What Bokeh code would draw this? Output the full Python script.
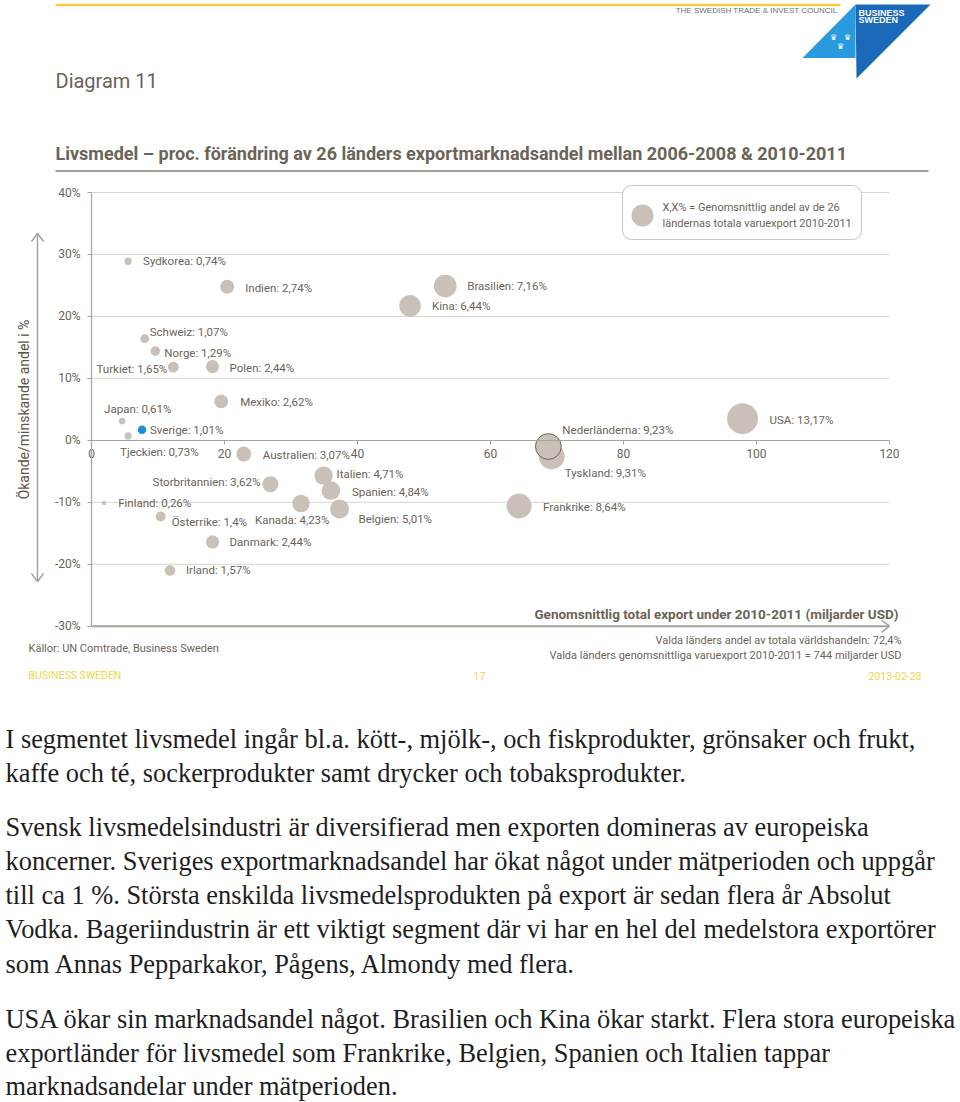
import math
from bokeh.plotting import figure
from bokeh.models import Range1d, LinearAxis, FixedTicker, NumeralTickFormatter, ColumnDataSource
from bokeh.core.properties import value
from bokeh.embed import file_html
from bokeh.resources import INLINE

# ---------------- data ----------------
countries = ["Sydkorea", "Indien", "Brasilien", "Kina", "Schweiz", "Norge", "Turkiet", "Polen",
             "Mexiko", "Japan", "Sverige", "Tjeckien", "Australien", "Italien", "Storbritannien",
             "Spanien", "Kanada", "Belgien", "Finland", "Österrike", "Danmark", "Irland", "USA",
             "Tyskland", "Nederländerna", "Frankrike"]
# average total export 2010-2011 (billion USD)
export_bn = [5.5, 20.4, 53.2, 47.9, 8.0, 9.6, 12.3, 18.2,
             19.5, 4.6, 7.6, 5.5, 22.9, 34.9, 26.9,
             36.0, 31.5, 37.3, 1.9, 10.4, 18.2, 11.8, 97.9,
             69.2, 68.7, 64.3]
# change in export market share (fraction)
share_change = [0.289, 0.248, 0.249, 0.217, 0.164, 0.144, 0.118, 0.119,
                0.063, 0.031, 0.017, 0.007, -0.022, -0.057, -0.071,
                -0.081, -0.102, -0.111, -0.101, -0.123, -0.164, -0.210, 0.035,
                -0.026, -0.010, -0.106]
# share of the 26 countries' total exports 2010-2011 (%)
world_share = [0.74, 2.74, 7.16, 6.44, 1.07, 1.29, 1.65, 2.44,
               2.62, 0.61, 1.01, 0.73, 3.07, 4.71, 3.62,
               4.84, 4.23, 5.01, 0.26, 1.4, 2.44, 1.57, 13.17,
               9.31, 9.23, 8.64]

x_ticks = [0, 20, 40, 60, 80, 100, 120]
y_ticks = [-0.3, -0.2, -0.1, 0.0, 0.1, 0.2, 0.3, 0.4]
grid_y = [-0.2, -0.1, 0.1, 0.2, 0.3, 0.4]

# label placement (screen px offsets, alignment) -- styling only
label_dx = [15, 18, 22, 22, 5, 9, -6, 17,
            19, -18, 8, -8, 19, 13, -10,
            21, -46, 19, 14, 11, 17, 16, 27,
            13, 14, 24]
label_dy = [0, 1, 0, 0, -7, 2, 2, 1,
            1, -12, 0, 16, 1, -2, -2,
            1, 16, 10, 0, 5, 0, 0, 1,
            17, -17, 1]
label_align = ["left"] * 26
label_align[countries.index("Turkiet")] = "right"
label_align[countries.index("Storbritannien")] = "right"

# ---------------- styling ----------------
W, H = 960, 1102
NARROW = "Roboto"
SANS = "Liberation Sans"
SERIF = "Liberation Serif"
TXT = "#6b6358"
BUBBLE = "#c9c1b8"
BLUE = "#1c8fd9"
YELLOW = "#e9d64c"
GRID = "#d8d5d0"

# pixel anchors of the chart frame on the page
X0_PX, X120_PX = 91.0, 889.0
Y40_PX, YM30_PX = 192.0, 625.7
sx = (X120_PX - X0_PX) / 120.0
sy = (YM30_PX - Y40_PX) / 0.70
x_start = 0 - X0_PX / sx
x_end = 120 + (W - X120_PX) / sx
y_end = 0.40 + Y40_PX / sy
y_start = -0.30 - (H - YM30_PX) / sy

p = figure(width=W, height=H, x_range=Range1d(x_start, x_end), y_range=Range1d(y_start, y_end),
           x_axis_type=None, y_axis_type=None, output_backend="svg", toolbar_location=None,
           min_border=0, outline_line_color=None, background_fill_color="white",
           border_fill_color="white")
p.extra_x_ranges = {"px": Range1d(0, W)}
p.extra_y_ranges = {"py": Range1d(H, 0)}
PX = dict(x_range_name="px", y_range_name="py")

# ---------------- chart ----------------
p.segment(x0=[0] * len(grid_y), x1=[120] * len(grid_y), y0=grid_y, y1=grid_y,
          line_color=GRID, line_width=1)

xaxis = LinearAxis(fixed_location=0, bounds=(0, 120), ticker=FixedTicker(ticks=x_ticks),
                   axis_line_color="#a9a39c", axis_line_width=1.2,
                   major_tick_out=4, major_tick_in=0, major_tick_line_color="#a9a39c",
                   minor_tick_line_color=None, major_label_standoff=5,
                   major_label_text_font=NARROW, major_label_text_font_size="12px",
                   major_label_text_color=TXT)
p.add_layout(xaxis, "below")

yaxis = LinearAxis(fixed_location=0, bounds=(-0.3, 0.4), ticker=FixedTicker(ticks=y_ticks),
                   formatter=NumeralTickFormatter(format="0%"),
                   axis_line_color="#a9a39c", axis_line_width=1.2,
                   major_tick_out=4, major_tick_in=0, major_tick_line_color="#a9a39c",
                   minor_tick_line_color=None, major_label_standoff=7,
                   major_label_text_font=NARROW, major_label_text_font_size="12px",
                   major_label_text_color=TXT)
p.add_layout(yaxis, "left")

# bottom arrow line at -30%
p.segment(x0=[0], x1=[120], y0=[-0.3], y1=[-0.3], line_color="#a9a39c", line_width=2)
p.multi_line(xs=[[881, 889, 881]], ys=[[619.5, 625.7, 631.9]], line_color="#a9a39c",
             line_width=1.5, **PX)

labels = [f"{c}: {str(s).replace('.', ',')}%" for c, s in zip(countries, world_share)]
sizes = [8.5 * math.sqrt(s) for s in world_share]
fills = [BLUE if c == "Sverige" else BUBBLE for c in countries]
lines = ["#6b6358" if c == "Nederländerna" else None for c in countries]
src = ColumnDataSource(dict(x=export_bn, y=share_change, size=sizes, fill=fills, lc=lines,
                            label=labels, dx=label_dx, dy=label_dy, align=label_align))
p.scatter("x", "y", size="size", fill_color="fill", line_color="lc", line_width=1,
          fill_alpha=1, source=src)
p.text("x", "y", text="label", x_offset="dx", y_offset="dy", text_align="align",
       text_baseline="middle", text_font=value(NARROW), text_font_size="11.5px",
       text_color=TXT, source=src)

# legend box
p.quad(left=[622], right=[861], top=[185], bottom=[239], fill_color="white",
       line_color="#c9c5bf", line_width=1, border_radius=9, **PX)
p.scatter(x=[642], y=[215], size=22, fill_color=BUBBLE, line_color=None, **PX)
p.text(x=[662, 662], y=[207, 222.5],
       text=["X,X% = Genomsnittlig andel av de 26", "ländernas totala varuexport 2010-2011"],
       text_align="left", text_baseline="middle", text_font=value(NARROW),
       text_font_size="11px", text_color=TXT, **PX)

# y-axis title + arrow
p.text(x=[23], y=[409], text=["Ökande/minskande andel i %"], angle=math.pi / 2,
       text_align="center", text_baseline="middle", text_font=value(NARROW),
       text_font_size="14px", text_color="#5a5349", **PX)
p.segment(x0=[37], x1=[37], y0=[233], y1=[581], line_color="#a9a39c", line_width=1.5, **PX)
p.multi_line(xs=[[31, 37, 43], [31, 37, 43]], ys=[[241, 233, 241], [573, 581, 573]],
             line_color="#a9a39c", line_width=1.5, **PX)

# x-axis title and notes
p.text(x=[898], y=[613], text=["Genomsnittlig total export under 2010-2011 (miljarder USD)"],
       text_align="right", text_baseline="middle", text_font=value(NARROW),
       text_font_style="bold", text_font_size="13.5px", text_color=TXT, **PX)
p.text(x=[901, 901], y=[640, 654.5],
       text=["Valda länders andel av totala världshandeln: 72,4%",
             "Valda länders genomsnittliga varuexport 2010-2011 = 744 miljarder USD"],
       text_align="right", text_baseline="middle", text_font=value(NARROW),
       text_font_size="11px", text_color=TXT, **PX)
p.text(x=[28], y=[648], text=["Källor: UN Comtrade, Business Sweden"], text_align="left",
       text_baseline="middle", text_font=value(NARROW), text_font_size="11px",
       text_color=TXT, **PX)

# footer
p.text(x=[28], y=[675], text=["BUSINESS SWEDEN"], text_align="left", text_baseline="middle",
       text_font=value(NARROW), text_font_size="10.5px", text_color=YELLOW, **PX)
p.text(x=[479], y=[675], text=["17"], text_align="center", text_baseline="middle",
       text_font=value(NARROW), text_font_size="10.5px", text_color=YELLOW, **PX)
p.text(x=[921], y=[675], text=["2013-02-28"], text_align="right", text_baseline="middle",
       text_font=value(NARROW), text_font_size="10.5px", text_color=YELLOW, **PX)

# ---------------- header ----------------
p.segment(x0=[55], x1=[840], y0=[4.5], y1=[4.5], line_color="#f3cd3a", line_width=2.5, **PX)
p.text(x=[837], y=[10], text=["THE SWEDISH TRADE & INVEST COUNCIL"], text_align="right",
       text_baseline="middle", text_font=value(SANS), text_font_size="8px",
       text_color="#707070", **PX)
p.patches(xs=[[802, 855, 855], [855, 930, 856]], ys=[[57.5, 4, 57.5], [4, 4, 78]],
          fill_color=["#2a9ade", "#1a68b8"], line_color=None, **PX)
p.text(x=[858, 858], y=[12, 19.5], text=["BUSINESS", "SWEDEN"], text_align="left",
       text_baseline="middle", text_font=value(SANS), text_font_style="bold",
       text_font_size="9px", text_color="white", **PX)
p.text(x=[833, 847, 840], y=[37, 37, 46], text=["♛", "♛", "♛"], text_align="center",
       text_baseline="middle", text_font=value("DejaVu Sans"), text_font_size="8px",
       text_color="white", **PX)

p.text(x=[55], y=[80], text=["Diagram 11"], text_align="left", text_baseline="middle",
       text_font=value(NARROW), text_font_size="20px", text_color=TXT, **PX)
p.text(x=[55], y=[153],
       text=["Livsmedel – proc. förändring av 26 länders exportmarknadsandel mellan 2006-2008 & 2010-2011"],
       text_align="left", text_baseline="middle", text_font=value(NARROW),
       text_font_style="bold", text_font_size="18px", text_color=TXT, **PX)
p.segment(x0=[55], x1=[928], y0=[170.5], y1=[170.5], line_color="#857d70", line_width=1.5, **PX)

# ---------------- body text ----------------
body_lines = [
    "I segmentet livsmedel ingår bl.a. kött-, mjölk-, och fiskprodukter, grönsaker och frukt,",
    "kaffe och té, sockerprodukter samt drycker och tobaksprodukter.",
    "Svensk livsmedelsindustri är diversifierad men exporten domineras av europeiska",
    "koncerner. Sveriges exportmarknadsandel har ökat något under mätperioden och uppgår",
    "till ca 1 %. Största enskilda livsmedelsprodukten på export är sedan flera år Absolut",
    "Vodka. Bageriindustrin är ett viktigt segment där vi har en hel del medelstora exportörer",
    "som Annas Pepparkakor, Pågens, Almondy med flera.",
    "USA ökar sin marknadsandel något. Brasilien och Kina ökar starkt. Flera stora europeiska",
    "exportländer för livsmedel som Frankrike, Belgien, Spanien och Italien tappar",
    "marknadsandelar under mätperioden.",
]
body_centers = [738, 772, 826, 860, 894, 928, 963, 1018, 1052, 1085]
p.text(x=[5] * len(body_lines), y=body_centers, text=body_lines, text_align="left",
       text_baseline="middle", text_font=value(SERIF), text_font_size="26.4px",
       text_color="#1e1e1e", **PX)

open("out.html", "w").write(file_html(p, INLINE))
